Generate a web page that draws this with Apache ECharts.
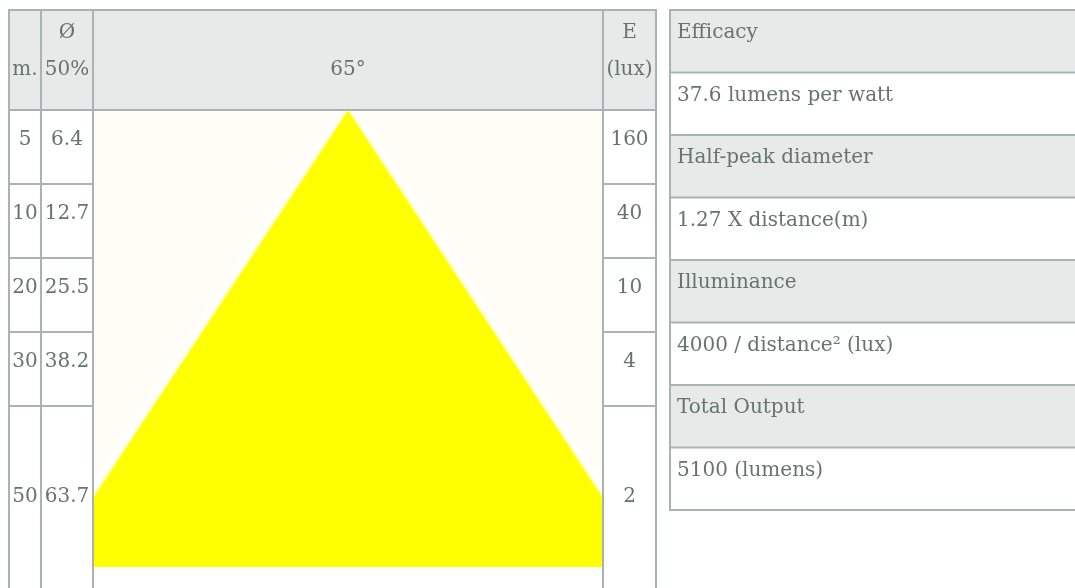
<!DOCTYPE html>
<html><head><meta charset="utf-8">
<script src="https://cdn.jsdelivr.net/npm/echarts@6/dist/echarts.min.js"></script>
<style>html,body{margin:0;padding:0;background:#fff}#c{width:1075px;height:588px}</style>
</head><body><div id="c"></div>
<script>
// ---- data ----
const distances = [5, 10, 20, 30, 50];
const diameters = ['6.4', '12.7', '25.5', '38.2', '63.7'];
const illuminance = ['160', '40', '10', '4', '2'];
const beamAngle = '65°';
const headerLabels = [['m.'], ['Ø', '50%'], [beamAngle], ['E', '(lux)']];
const specLabels = ['Efficacy', 'Half-peak diameter', 'Illuminance', 'Total Output'];
const specValues = ['37.6 lumens per watt', '1.27 X distance(m)', '4000 / distance² (lux)', '5100 (lumens)'];

// ---- layout / style ----
const COLS = [9, 41, 93, 603, 656];
const TOP = 10, HEAD_B = 110, ROW_H = 74, LAST_B = 602;
const RT = { x: 670, top: 10, rowH: 62.5, textX: 677, right: 1080 };
const C = { line: '#a9b3b3', head: '#e8eaea', text: '#66736f', cream: '#fffdf5', yellow: '#ffff00' };
const FONT = '"DejaVu Serif", serif';
const FS = 20;
const BEAM = { left: 94, top: 111, width: 508, height: 456, depthRatio: 456 / 386 };

const g = [];
function rect(x, y, w, h, fill) { g.push({ type: 'rect', shape: { x, y, width: w, height: h }, style: { fill }, silent: true }); }
function text(s, x, y, align) {
  g.push({ type: 'text', x, y, style: { text: s, fill: C.text, font: FS + 'px ' + FONT, align: align || 'center', verticalAlign: 'middle' }, silent: true });
}

// left table header background
rect(COLS[0], TOP, COLS[4] - COLS[0], HEAD_B - TOP, C.head);
// right table row backgrounds
const nRT = specLabels.length * 2;
for (let i = 0; i < nRT; i++) rect(RT.x, RT.top + i * RT.rowH, RT.right - RT.x, RT.rowH, i % 2 === 0 ? C.head : '#fff');

// left table lines
COLS.forEach(x => rect(x - 1, TOP - 1, 2, 600, C.line));
[TOP, HEAD_B].forEach(y => rect(COLS[0] - 1, y - 1, COLS[4] - COLS[0] + 2, 2, C.line));
for (let r = 1; r < distances.length; r++) {
  const y = HEAD_B + r * ROW_H;
  rect(COLS[0] - 1, y - 1, COLS[2] - COLS[0] + 2, 2, C.line);
  rect(COLS[3] - 1, y - 1, COLS[4] - COLS[3] + 2, 2, C.line);
}
// right table lines
for (let i = 0; i <= nRT; i++) rect(RT.x - 1, RT.top + i * RT.rowH - 1, RT.right - RT.x, 2, C.line);
rect(RT.x - 1, RT.top - 1, 2, nRT * RT.rowH + 2, C.line);

// header texts
const colCenters = [0, 1, 2, 3].map(i => (COLS[i] + COLS[i + 1]) / 2);
headerLabels.forEach((lines, i) => {
  const bases = lines.length === 2 ? [40, 77] : [77];
  lines.forEach((s, k) => text(s, colCenters[i], bases[k] - 7));
});
// body texts
distances.forEach((d, r) => {
  const top = HEAD_B + r * ROW_H;
  const bot = r === distances.length - 1 ? LAST_B : top + ROW_H;
  const cy = (top + bot) / 2 - 7;
  text(String(d), colCenters[0], cy);
  text(diameters[r], colCenters[1], cy);
  text(illuminance[r], colCenters[3], cy);
});
// right table texts
specLabels.forEach((s, i) => {
  text(s, RT.textX, RT.top + (2 * i) * RT.rowH + 23, 'left');
  text(specValues[i], RT.textX, RT.top + (2 * i + 1) * RT.rowH + 23, 'left');
});

const lastDist = distances[distances.length - 1];
const halfW = parseFloat(diameters[diameters.length - 1]) / 2;
const yMax = lastDist * BEAM.depthRatio;

const chart = echarts.init(document.getElementById('c'), null, { renderer: 'canvas' });
chart.setOption({
  animation: false,
  backgroundColor: '#fff',
  grid: { left: BEAM.left, top: BEAM.top, width: BEAM.width, height: BEAM.height, show: true, backgroundColor: C.cream, borderWidth: 0 },
  xAxis: { type: 'value', min: -halfW, max: halfW, show: false },
  yAxis: { type: 'value', min: 0, max: yMax, inverse: true, show: false },
  series: [{
    type: 'custom',
    clip: true,
    data: [[0, 0]],
    renderItem(params, api) {
      const apex = api.coord([0, 0]);
      const l = api.coord([-halfW, lastDist]), r = api.coord([halfW, lastDist]);
      const bl = api.coord([-halfW, yMax]), br = api.coord([halfW, yMax]);
      return {
        type: 'group', children: [
          { type: 'polyline', shape: { points: [l, apex, r] }, style: { stroke: '#ffffff', lineWidth: 16, fill: null, shadowBlur: 10, shadowColor: '#ffffff' } },
          { type: 'polygon', shape: { points: [apex, r, br, bl, l] }, style: { fill: C.yellow, shadowBlur: 4, shadowColor: 'rgba(255,255,0,0.9)' } }
        ]
      };
    }
  }],
  graphic: { elements: g }
});
</script></body></html>
